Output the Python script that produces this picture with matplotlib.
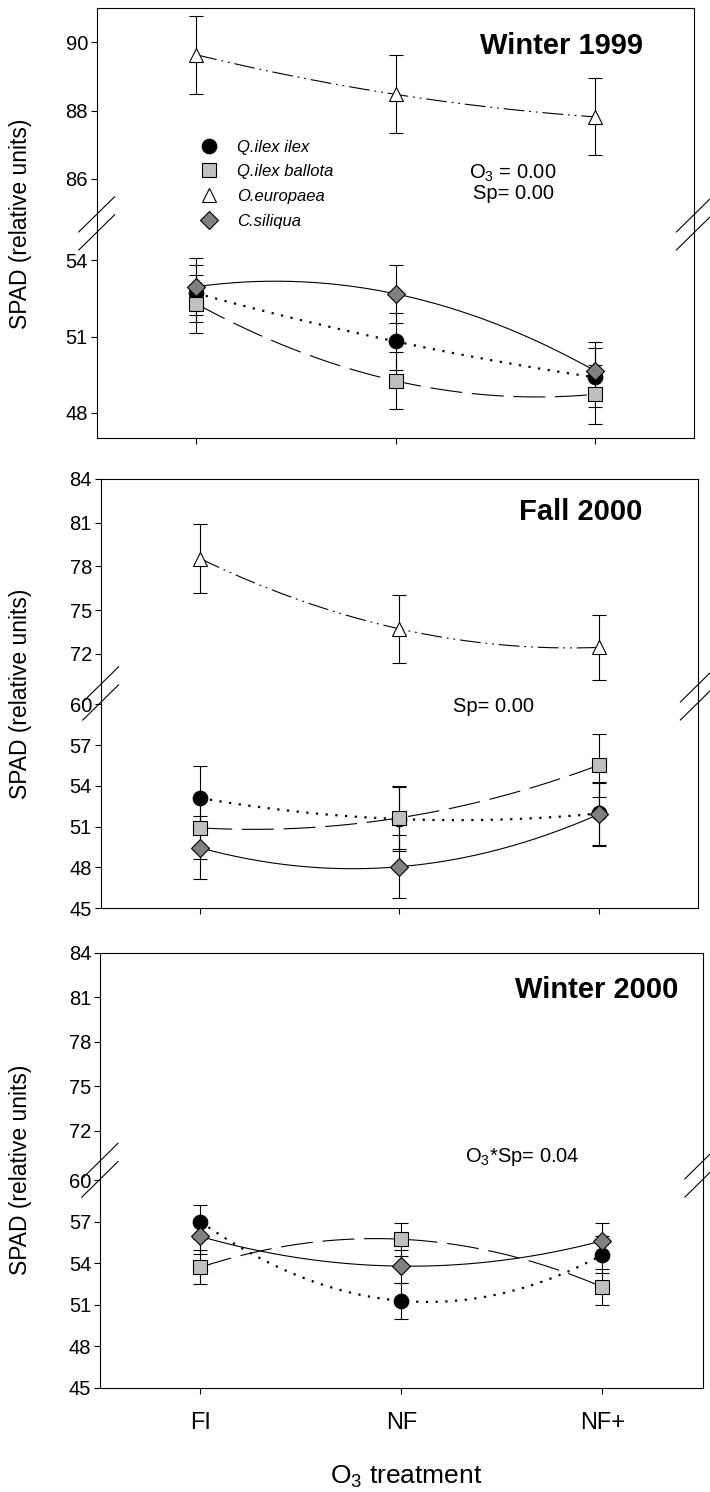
import numpy as np
import matplotlib
matplotlib.use('Agg')
import matplotlib.pyplot as plt
from matplotlib.lines import Line2D

plt.rcParams['font.family'] = ['Liberation Sans', 'DejaVu Sans']
plt.rcParams['mathtext.default'] = 'regular'
plt.rcParams['lines.scale_dashes'] = False

treatments = ['FI', 'NF', 'NF+']
species = ['Q.ilex ilex', 'Q.ilex ballota', 'O.europaea', 'C.siliqua']

# Winter 1999
w99_ilex = [52.70, 50.81, 49.40]
w99_ilex_se = [1.13, 1.13, 1.15]
w99_ballota = [52.29, 49.26, 48.73]
w99_ballota_se = [1.13, 1.12, 1.15]
w99_europaea = [89.64, 88.48, 87.82]
w99_europaea_se = [1.15, 1.14, 1.13]
w99_siliqua = [52.96, 52.68, 49.66]
w99_siliqua_se = [1.11, 1.14, 1.11]

# Fall 2000
f00_ilex = [53.09, 51.55, 51.96]
f00_ilex_se = [2.35, 2.33, 2.33]
f00_ballota = [50.90, 51.64, 55.51]
f00_ballota_se = [2.32, 2.33, 2.31]
f00_europaea = [78.53, 73.72, 72.45]
f00_europaea_se = [2.34, 2.33, 2.23]
f00_siliqua = [49.43, 48.04, 51.90]
f00_siliqua_se = [2.32, 2.33, 2.30]

# Winter 2000 (no O.europaea)
w00_ilex = [57.01, 51.28, 54.62]
w00_ilex_se = [1.24, 1.32, 1.35]
w00_ballota = [53.71, 55.74, 52.28]
w00_ballota_se = [1.24, 1.20, 1.29]
w00_siliqua = [55.94, 53.79, 55.63]
w00_siliqua_se = [1.27, 1.20, 1.26]

titles = ['Winter 1999', 'Fall 2000', 'Winter 2000']
stats_text = ['O$_3$ = 0.00\nSp= 0.00', 'Sp= 0.00', 'O$_3$*Sp= 0.04']

yticks_w99 = [48, 51, 54, 86, 88, 90]
yticks_00 = [45, 48, 51, 54, 57, 60, 72, 75, 78, 81, 84]

# styles per species: marker, face colour, linestyle, linewidth, marker size, zorder
styles = {
    'Q.ilex ilex': dict(marker='o', fc='black', ls=(0, (1.6, 5.4)), lw=1.6, ms=10.5, z=5),
    'Q.ilex ballota': dict(marker='s', fc='#c0c0c0', ls=(0, (23, 7)), lw=0.8, ms=9.5, z=6),
    'O.europaea': dict(marker='^', fc='white', ls=(0, (15, 3.5, 1.3, 3.5, 1.3, 3.5)), lw=0.8, ms=10.5, z=4),
    'C.siliqua': dict(marker='D', fc='#808080', ls='-', lw=0.8, ms=9, z=7),
}

panels = [
    dict(data={'Q.ilex ilex': (w99_ilex, w99_ilex_se), 'Q.ilex ballota': (w99_ballota, w99_ballota_se),
               'O.europaea': (w99_europaea, w99_europaea_se), 'C.siliqua': (w99_siliqua, w99_siliqua_se)},
         rect=[0.1362, 0.7062, 0.8417, 0.2882], lower=(47.0, 55.45), upper=(84.7, 91.0),
         yticks=yticks_w99, title_xy=(0.914, 0.912), stat_xy=(0.697, 0.594)),
    dict(data={'Q.ilex ilex': (f00_ilex, f00_ilex_se), 'Q.ilex ballota': (f00_ballota, f00_ballota_se),
               'O.europaea': (f00_europaea, f00_europaea_se), 'C.siliqua': (f00_siliqua, f00_siliqua_se)},
         rect=[0.1418, 0.3914, 0.8417, 0.2877], lower=(45.0, 60.8), upper=(69.3, 84.0),
         yticks=yticks_00, title_xy=(0.907, 0.923), stat_xy=(0.6565, 0.4705)),
    dict(data={'Q.ilex ilex': (w00_ilex, w00_ilex_se), 'Q.ilex ballota': (w00_ballota, w00_ballota_se),
               'C.siliqua': (w00_siliqua, w00_siliqua_se)},
         rect=[0.1408, 0.0700, 0.8493, 0.2914], lower=(45.0, 60.74), upper=(69.35, 84.0),
         yticks=yticks_00, title_xy=(0.9585, 0.914), stat_xy=(0.701, 0.531)),
]


def broken_scale(lower, upper):
    xp = [lower[0], lower[1], upper[0], upper[1]]
    fp = [0.0, 0.5, 0.5 + 1e-9, 1.0]

    def fwd(v):
        return np.interp(v, xp, fp)

    def inv(p):
        return np.interp(p, fp, xp)
    return fwd, inv


fig = plt.figure(figsize=(7.1, 14.92), dpi=100)
x = np.arange(len(treatments))
xs = np.linspace(0, 2, 200)

for i, p in enumerate(panels):
    ax = fig.add_axes(p['rect'])
    fwd, inv = broken_scale(p['lower'], p['upper'])
    ax.set_yscale('function', functions=(fwd, inv))
    ax.set_ylim(p['lower'][0], p['upper'][1])
    ax.set_xlim(-0.5, 2.5)

    for name, (vals, se) in p['data'].items():
        st = styles[name]
        coef = np.polyfit(x, vals, 2)
        ax.plot(xs, np.polyval(coef, xs), color='black', ls=st['ls'], lw=st['lw'], zorder=2)
        ax.errorbar(x, vals, yerr=se, fmt='none', ecolor='black', elinewidth=0.8,
                    capsize=4.7, capthick=0.8, zorder=3)
        ax.plot(x, vals, ls='none', marker=st['marker'], ms=st['ms'], mfc=st['fc'],
                mec='black', mew=0.8, zorder=st['z'])

    ax.set_yticks(p['yticks'])
    ax.set_yticklabels([str(t) for t in p['yticks']])
    ax.minorticks_off()
    ax.set_xticks(x)
    if i == 2:
        ax.set_xticklabels(treatments, fontsize=17)
    else:
        ax.set_xticklabels([])
    ax.tick_params(axis='y', direction='out', length=4.3, width=0.8, labelsize=14.5, pad=2)
    ax.tick_params(axis='x', direction='out', length=4.3, width=0.8, pad=13)
    for s in ax.spines.values():
        s.set_linewidth(0.8)

    ax.set_ylabel('SPAD (relative units)', fontsize=16.5)
    ax.yaxis.set_label_coords((32 / 710 - p['rect'][0]) / p['rect'][2], 0.5)

    ax.text(p['title_xy'][0], p['title_xy'][1], titles[i], transform=ax.transAxes,
            ha='right', va='center', fontsize=21, fontweight='bold')
    ax.text(p['stat_xy'][0], p['stat_xy'][1], stats_text[i], transform=ax.transAxes,
            ha='center', va='center', fontsize=14.5, linespacing=1.05)

    # break marks on both side spines
    for xc in (0.0, 1.0):
        for yc in (0.521, 0.479):
            ax.plot([xc - 0.03, xc + 0.03], [yc - 0.041, yc + 0.041], transform=ax.transAxes,
                    color='black', lw=0.8, clip_on=False, zorder=10)

    if i == 0:
        handles = [Line2D([], [], ls='none', marker=styles[n]['marker'], ms=styles[n]['ms'],
                          mfc=styles[n]['fc'], mec='black', mew=0.8) for n in species]
        leg = ax.legend(handles, species, loc='upper left', bbox_to_anchor=(0.174, 0.695),
                        frameon=False, handlelength=1.0, handletextpad=1.2, labelspacing=0.58,
                        borderpad=0, borderaxespad=0, prop={'size': 12, 'style': 'italic'})

fig.text(406 / 710, 1 - 1477 / 1492, 'O$_3$ treatment', ha='center', va='center', fontsize=19)

fig.savefig('out.png', dpi=100)
